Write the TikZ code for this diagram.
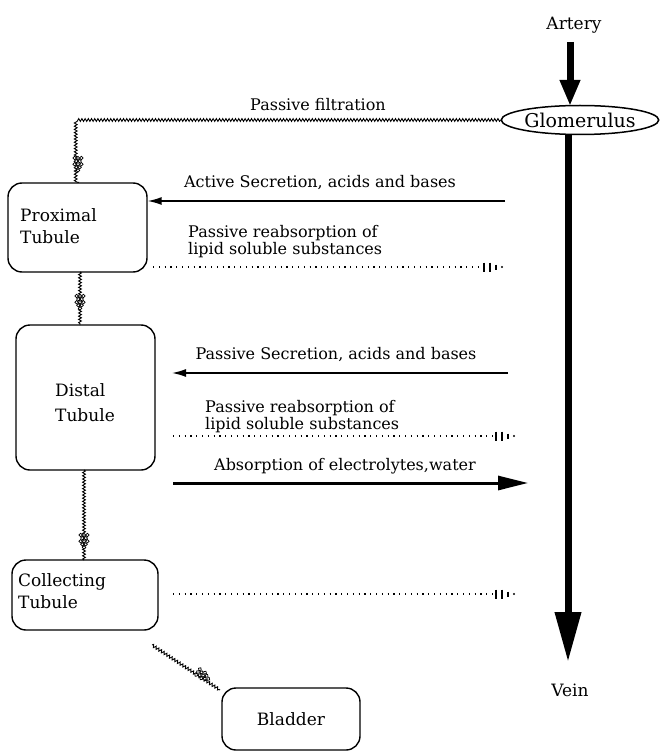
\documentclass[tikz,border=0pt]{standalone}
\usepackage{fontspec}
\setmainfont{DejaVu Serif}
\usetikzlibrary{arrows.meta,decorations.pathmorphing,shapes.geometric}
\begin{document}
\begin{tikzpicture}[x=1pt,y=-1pt,
  lbl/.style={font=\fontsize{16}{17}\selectfont,inner sep=0pt},
  boxlbl/.style={font=\fontsize{17}{22}\selectfont,inner sep=0pt},
  tubebox/.style={draw,line width=1.4pt,rounded corners=14pt},
  snk/.style={decorate,decoration={snake,segment length=3.2pt,amplitude=1.4pt},line width=0.9pt},
  thinarr/.style={line width=1.5pt,-{Latex[length=14pt,width=8pt]}},
  dotline/.style={line width=2.2pt,dash pattern=on 1.2pt off 4.6pt},
  grape/.pic={
    \foreach \p in {(-3.4,0),(0,0),(3.4,0),(-1.7,3.1),(1.7,3.1),(-3.4,6.2),(0,6.2),(3.4,6.2),(-1.7,9.3),(1.7,9.3),(0,12.4)}
      \draw[line width=0.7pt,fill=white] \p circle (1.7pt);
  },
  bars/.pic={
    \draw[line width=1.8pt] (0,-4.5)--(0,4.5);
    \draw[line width=1.8pt] (6,-4.5)--(6,4.5);
    \draw[line width=1.6pt] (12,-2.5)--(12,2.5);
    \fill (18,0) circle (1.2pt);
  }]
\useasboundingbox (0,0) rectangle (659,751);

% texts
\node[boxlbl] (artery) at (574,25) {Artery};
\node[boxlbl] (vein) at (570,690) {Vein};
\node[ellipse,draw,line width=1.5pt,minimum width=154pt,minimum height=29pt,inner sep=0pt,font=\fontsize{19}{20}\selectfont] (glom) at (580,120) {Glomerulus};

% boxes
\node[tubebox,minimum width=139pt,minimum height=89pt] (prox) at (77.5,227.5) {};
\node[boxlbl,align=left,anchor=west] at (20,226) {Proximal\\Tubule};
\node[tubebox,minimum width=139pt,minimum height=145pt] (dist) at (85.5,397.5) {};
\node[boxlbl,align=left,anchor=west,font=\fontsize{17}{25}\selectfont] at (55,403) {Distal\\Tubule};
\node[tubebox,minimum width=146pt,minimum height=70pt] (coll) at (85,595) {};
\node[boxlbl,align=left,anchor=west] at (18,591) {Collecting\\Tubule};
\node[tubebox,minimum width=138pt,minimum height=62pt,boxlbl] (blad) at (291,719) {Bladder};

% main arteries
\coordinate (artTop) at (570,42);
\draw[line width=7pt,-{Triangle[length=26pt,width=19pt]}] (artTop) -- (570,106);
\coordinate (veinTip) at (568,662);
\draw[line width=7pt,-{Triangle[length=50pt,width=25pt]}] (568,134) -- (veinTip);

% passive filtration
\coordinate (pfc) at (78,120);
\draw[snk] (glom.west) -- (pfc) -- (78,183);
\pic at (78,158) {grape};
\node[lbl] at (318,105) {Passive filtration};

% active secretion
\coordinate (as1) at (505,201);
\draw[thinarr] (as1) -- (prox.east |- as1);
\node[lbl] at (320,183) {Active Secretion, acids and bases};

% passive reabsorption 1
\node[lbl,align=left,anchor=west] at (188,242) {Passive reabsorption of\\lipid soluble substances};
\coordinate (pr1a) at (153,267);
\coordinate (pr1b) at (481,267);
\draw[dotline] (pr1a) -- (pr1b);
\pic at (484,267) {bars};

% prox to distal
\draw[snk] (80,272) -- (80,325);
\pic at (80,296) {grape};

% passive secretion
\coordinate (ps1) at (508,373);
\draw[thinarr] (ps1) -- (172,373);
\node[lbl] at (336,355) {Passive Secretion, acids and bases};

% passive reabsorption 2
\node[lbl,align=left,anchor=west] at (205,417) {Passive reabsorption of\\lipid soluble substances};
\draw[dotline] (173,436) -- (493,436);
\pic at (496,436) {bars};

% absorption
\coordinate (ab1) at (173,483);
\draw[line width=3pt,-{Triangle[length=30pt,width=14pt]}] (ab1) -- (528,483);
\node[lbl] at (345,466) {Absorption of electrolytes,water};

% distal to collecting
\draw[snk] (84,470) -- (84,560);
\pic at (84,535) {grape};

% collecting dotted
\draw[dotline] (173,594) -- (493,594);
\pic at (496,594) {bars};

% collecting to bladder
\draw[snk] (152,645) -- (220,690);
\pic[rotate=56] at (198,672) {grape};
\end{tikzpicture}
\end{document}
